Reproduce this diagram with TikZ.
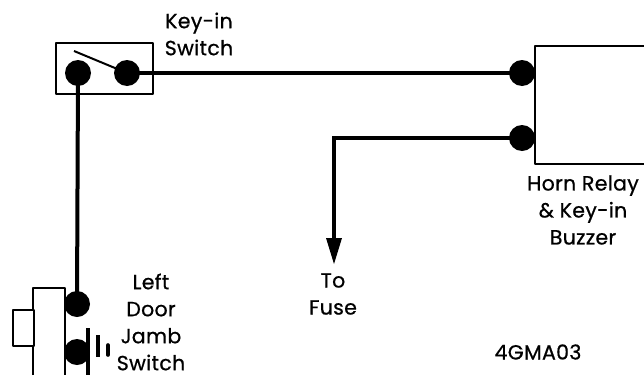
\documentclass[tikz,border=0pt]{standalone}
\usepackage{fontspec}
\setmainfont[RawFeature={embolden=0.7},LetterSpace=1.5]{Poppins}
\usetikzlibrary{arrows.meta}
\tikzset{
  box/.style={draw=black,line width=2pt,fill=white,line join=round},
  dot/.style={circle,fill=black,draw=none,minimum size=26pt,inner sep=0pt},
  wire/.style={line width=4pt,draw=black},
  lbl/.style={font=\fontsize{20.5pt}{27pt}\selectfont,align=center,text=black,inner sep=0pt},
  pt/.style={inner sep=0pt,minimum size=0pt}
}
\begin{document}
\begin{tikzpicture}[x=1pt,y=-1pt]
\useasboundingbox (0,0) rectangle (644,375);
% key-in switch
\node[box,minimum width=97pt,minimum height=51pt,inner sep=0pt,anchor=north west] (sw) at (55,42) {};
\node[dot] (a) at (78,73) {};
\node[dot] (b) at (127,73) {};
\coordinate (armend) at (74,51);
\draw[line width=2pt] (armend) -- (b.center);
% door jamb
\coordinate (c1) at (33,375);
\coordinate (c2) at (33,288);
\coordinate (c3) at (65,288);
\coordinate (c4) at (65,375);
\node[dot] (c) at (77,304) {};
\node[dot] (d) at (77,352) {};
\draw[line width=2.4pt,line join=round,fill=white] (c1) -- (c2) -- (c3) -- (c4);
\node[box,line width=2.4pt,minimum width=21pt,minimum height=36pt,inner sep=0pt,anchor=north west] (plug) at (12,309) {};
\coordinate (g1) at (88,328); \coordinate (g2) at (88,375);
\coordinate (g3) at (98,335); \coordinate (g4) at (98,357);
\coordinate (g5) at (108,345); \coordinate (g6) at (108,355);
\draw[line width=4.5pt] (g1) -- (g2);
\draw[line width=4pt] (g3) -- (g4);
\draw[line width=3.6pt,line cap=round] (g5) -- (g6);
% relay
\node[dot] (e) at (522,73) {};
\node[dot] (f) at (522,138) {};
\node[box,minimum width=120pt,minimum height=118pt,inner sep=0pt,anchor=north west] (relay) at (534,45) {};
% wires
\draw[wire] (a.center) -- (c.center);
\draw[wire] (b.center) -- (e.center);
\coordinate (bend) at (334,138);
\coordinate (tip) at (334,264);
\coordinate (neck) at (334,240);
\draw[wire] (f.center) -- (bend) -- (neck);
\fill (tip) -- (326,238) -- (342,238) -- cycle;
% labels
\node[lbl] (t1) at (199,34) {Key-in\\Switch};
\node[lbl] (t2) at (583,210) {Horn Relay\\\& Key-in\\Buzzer};
\node[lbl] (t3) at (333,294) {To\\Fuse};
\node[lbl] (t4) at (151,322) {Left\\Door\\Jamb\\Switch};
\node[lbl] (t5) at (538,352) {4GMA03};
\end{tikzpicture}
\end{document}
